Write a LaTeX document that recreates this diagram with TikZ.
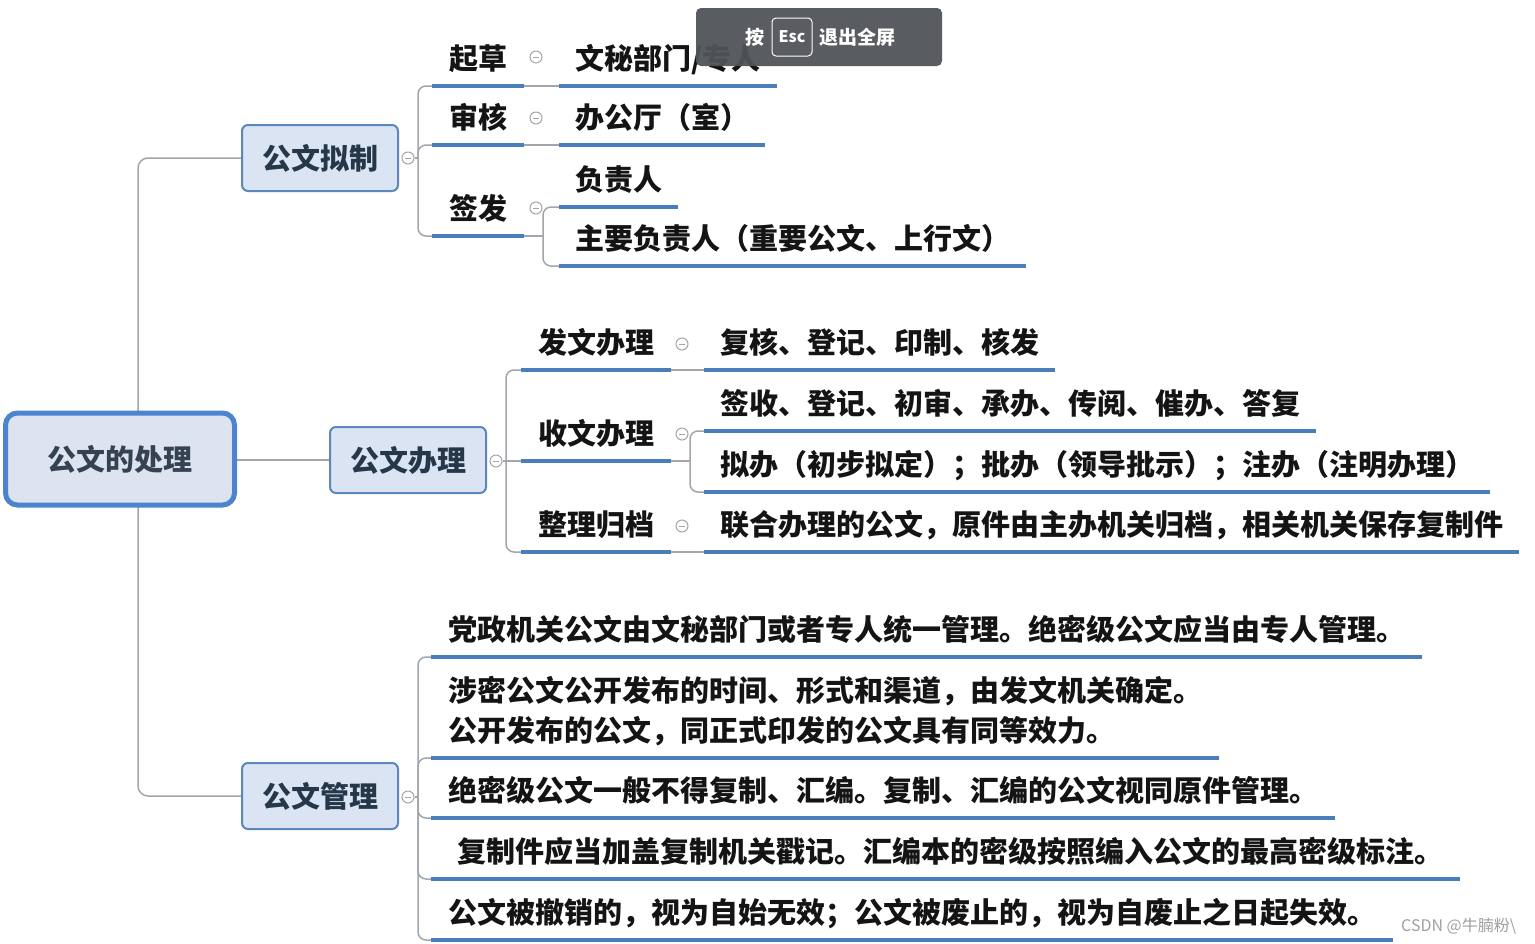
\documentclass[tikz,border=0pt]{standalone}
\usepackage{fontspec}
\setmainfont{Noto Sans CJK SC}
\usetikzlibrary{calc}
\pgfdeclarelayer{bg}
\pgfsetlayers{bg,main}
\definecolor{ulblue}{HTML}{4A7EBB}
\definecolor{conngray}{HTML}{A2A6AA}
\definecolor{nodefill}{HTML}{DAE4F2}
\definecolor{nodeborder}{HTML}{5B86BE}
\definecolor{rootborder}{HTML}{4C84CF}
\definecolor{rootfill}{HTML}{DDE4EF}
\definecolor{nodetext}{HTML}{26374A}
\definecolor{leaftext}{HTML}{141414}
\definecolor{bargray}{HTML}{505357}
\definecolor{wmgray}{HTML}{A0A0A0}
\newcommand\topicfont{\fontsize{29}{34}\selectfont\bfseries}
\newcommand\leaffont{\fontsize{29}{40}\selectfont\bfseries}
\begin{document}
\begin{tikzpicture}[x=1pt,y=-1pt,
  conn/.style={draw=conngray, line width=1.5pt},
  uline/.style={draw=ulblue, line width=3.5pt},
  topic/.style={draw=nodeborder, line width=2pt, fill=nodefill, rounded corners=6pt,
    minimum width=156pt, minimum height=66pt, inner sep=0pt, font=\topicfont, text=nodetext},
  rootnode/.style={draw=rootborder, line width=5pt, fill=rootfill, rounded corners=12pt,
    minimum width=229pt, minimum height=92pt, inner sep=0pt, font=\topicfont, text=nodetext!85!gray},
  leafbox/.style={anchor=south west, inner xsep=16pt, inner ysep=11pt, text depth=5pt,
    font=\leaffont, text=leaftext},
  lvtwo/.style={leafbox, inner xsep=17pt},
  collapse/.style={circle, draw=conngray, line width=1pt, fill=white, minimum size=12pt, inner sep=0pt,
    path picture={\draw[conngray, line width=1pt] ([xshift=-3pt]path picture bounding box.center) -- ([xshift=3pt]path picture bounding box.center);}},
]
\useasboundingbox (0,0) rectangle (1535,943);

% main topics
\node[rootnode] (root) at (120,459) {公文的处理};
\node[topic] (n1) at (320,158) {公文拟制};
\node[topic] (n2) at (408,460) {公文办理};
\node[topic] (n3) at (320,796) {公文管理};

% level 2/3 under 公文拟制
\node[lvtwo] (qc) at (432,86) {起草};
\node[lvtwo] (sh) at (432,145) {审核};
\node[lvtwo] (qf) at (432,236) {签发};
\node[leafbox] (wm) at (559,86) {文秘部门/专人};
\node[leafbox] (bgt) at (559,145) {办公厅（室）};
\node[leafbox] (fz) at (559,207) {负责人};
\node[leafbox] (zy) at (559,266) {主要负责人（重要公文、上行文）};

% under 公文办理
\node[lvtwo] (fw) at (521,370) {发文办理};
\node[lvtwo] (sw) at (521,461) {收文办理};
\node[lvtwo] (zl) at (521,552) {整理归档};
\node[leafbox] (fh) at (704,370) {复核、登记、印制、核发};
\node[leafbox] (qs) at (704,431) {签收、登记、初审、承办、传阅、催办、答复};
\node[leafbox] (nb) at (704,492) {拟办（初步拟定）；批办（领导批示）；注办（注明办理）};
\node[leafbox] (lh) at (704,552) {联合办理的公文，原件由主办机关归档，相关机关保存复制件};

% under 公文管理
\node[lvtwo] (m1) at (431,657) {党政机关公文由文秘部门或者专人统一管理。绝密级公文应当由专人管理。};
\node[lvtwo, align=left] (m2) at (431,758) {涉密公文公开发布的时间、形式和渠道，由发文机关确定。\\公开发布的公文，同正式印发的公文具有同等效力。};
\node[lvtwo] (m3) at (431,818) {绝密级公文一般不得复制、汇编。复制、汇编的公文视同原件管理。};
\node[lvtwo] (m4) at (431,879) {\hspace*{9pt}复制件应当加盖复制机关戳记。汇编本的密级按照编入公文的最高密级标注。};
\node[lvtwo] (m5) at (431,940) {公文被撤销的，视为自始无效；公文被废止的，视为自废止之日起失效。};

% bus coordinates
\coordinate (rb) at (138,460);
\coordinate (b1) at (418,158);
\coordinate (b13) at (543,236);
\coordinate (b2) at (506,461);
\coordinate (b22) at (690,461);
\coordinate (b3) at (418,797);

% collapse markers
\node[collapse] (c1) at (408,158) {};
\node[collapse] (c11) at (536,57) {};
\node[collapse] (c12) at (536,118) {};
\node[collapse] (c13) at (536,208) {};
\node[collapse] (c2) at (496,461) {};
\node[collapse] (c21) at (682,344) {};
\node[collapse] (c22) at (682,434) {};
\node[collapse] (c23) at (682,526) {};
\node[collapse] (c3) at (408,797) {};

\begin{pgfonlayer}{bg}
  \draw[conn, rounded corners=10pt] (n1.west) -| (rb) |- (n3.west);
  \draw[conn] (root.east |- n2.west) -- (n2.west);
  % 公文拟制
  \draw[conn] (c1.east) -- (b1);
  \draw[conn, rounded corners=8pt] (b1) |- (qc.south west);
  \draw[conn, rounded corners=8pt] (b1) |- (sh.south west);
  \draw[conn, rounded corners=8pt] (b1) |- (qf.south west);
  \draw[conn] (qc.south east) -- (wm.south west);
  \draw[conn] (sh.south east) -- (bgt.south west);
  \draw[conn] (qf.south east) -- (b13);
  \draw[conn, rounded corners=8pt] (b13) |- (fz.south west);
  \draw[conn, rounded corners=8pt] (b13) |- (zy.south west);
  % 公文办理
  \draw[conn] (c2.east) -- (b2);
  \draw[conn, rounded corners=8pt] (b2) |- (fw.south west);
  \draw[conn] (b2) -- (sw.south west);
  \draw[conn, rounded corners=8pt] (b2) |- (zl.south west);
  \draw[conn] (fw.south east) -- (fh.south west);
  \draw[conn] (sw.south east) -- (b22);
  \draw[conn, rounded corners=8pt] (b22) |- (qs.south west);
  \draw[conn, rounded corners=8pt] (b22) |- (nb.south west);
  \draw[conn] (zl.south east) -- (lh.south west);
  % 公文管理
  \draw[conn] (c3.east) -- (b3);
  \foreach \m in {m1,m2,m3,m4,m5}
    \draw[conn, rounded corners=8pt] (b3) |- (\m.south west);
\end{pgfonlayer}

% underlines
\foreach \n in {qc,sh,qf,wm,bgt,fz,zy,fw,sw,zl,fh,qs,nb,lh,m1,m2,m3,m4,m5}
  \draw[uline] (\n.south west) -- (\n.south east);

% full-screen hint bar
\node[fill=bargray, fill opacity=0.95, rounded corners=5pt, minimum width=246pt, minimum height=58pt, inner sep=0pt] (bar) at (819,37) {};
\node[text=white, font=\fontsize{19}{22}\selectfont\bfseries, inner sep=0pt] (an) at (755,37) {按};
\node[draw=white, line width=1pt, rounded corners=4pt, minimum width=40pt, minimum height=38pt, inner sep=0pt,
  text=white, font=\fontsize{16}{19}\selectfont\bfseries] (esc) at (792,37) {Esc};
\node[text=white, font=\fontsize{19}{22}\selectfont\bfseries, inner sep=0pt] (tq) at (857,37) {退出全屏};

% watermark
\node[anchor=west, inner sep=0pt, text=wmgray, font=\fontsize{16}{19}\selectfont] (wmk) at (1401,926) {CSDN @牛腩粉\textbackslash};
\end{tikzpicture}
\end{document}
